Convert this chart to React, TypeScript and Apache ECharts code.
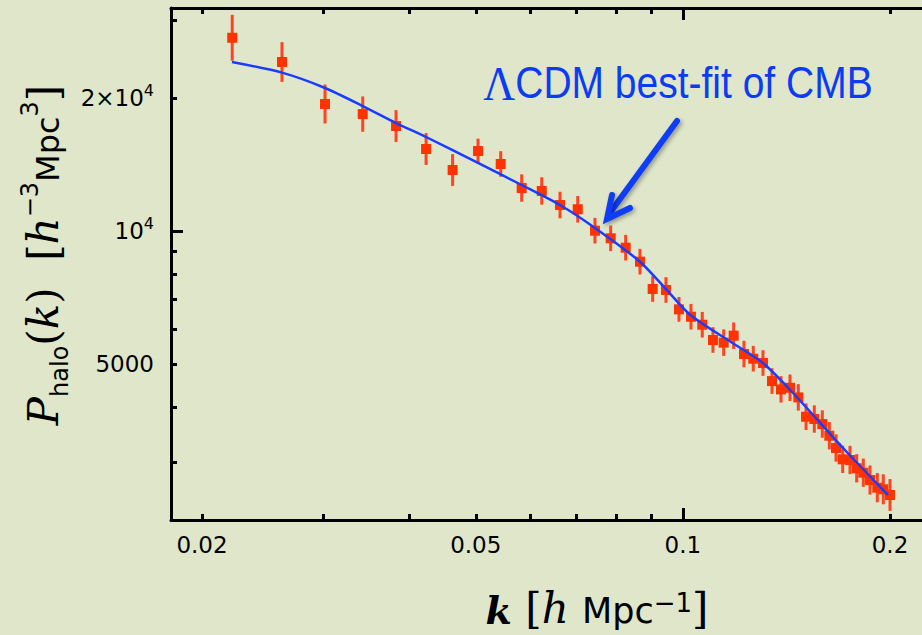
import React, { useEffect, useRef } from 'react';
import * as echarts from 'echarts';

// Measured halo power spectrum (k in h/Mpc, P in h^-3 Mpc^3)
const kData = [0.02213, 0.02614, 0.03019, 0.03425, 0.03829, 0.04234, 0.04627, 0.05038, 0.05435, 0.0583,
  0.06235, 0.06628, 0.07033, 0.07451, 0.07853, 0.08257, 0.08662, 0.09038, 0.09449, 0.09869,
  0.10274, 0.1067, 0.11059, 0.11462, 0.11852, 0.12268, 0.12656, 0.13074, 0.13474, 0.13887,
  0.14312, 0.14715, 0.151, 0.15525, 0.15946, 0.16324, 0.16694, 0.17072, 0.17494, 0.1789,
  0.1829, 0.18704, 0.19167, 0.19556, 0.2];
const pData = [27370, 24120, 19380, 18390, 17280, 15330, 13740, 15170, 14180, 12510,
  12320, 11450, 11200, 10016, 9627, 9168, 8523, 7392, 7354, 6650,
  6398, 6137, 5668, 5590, 5797, 5268, 5141, 5027, 4576, 4382,
  4419, 4203, 3800, 3755, 3658, 3442, 3229, 3044, 3033, 2905,
  2839, 2733, 2626, 2604, 2528];
// half length of error bars in log10 units
const errDex = [0.052, 0.045, 0.044, 0.040, 0.036, 0.036, 0.036, 0.028, 0.029, 0.031,
  0.031, 0.030, 0.030, 0.029, 0.029, 0.029, 0.029, 0.029, 0.029, 0.028,
  0.029, 0.029, 0.029, 0.030, 0.030, 0.030, 0.029, 0.029, 0.029, 0.030,
  0.030, 0.030, 0.030, 0.031, 0.031, 0.031, 0.031, 0.031, 0.032, 0.032,
  0.032, 0.033, 0.033, 0.034, 0.036];

// LCDM best-fit curve
const lineK = [0.02211, 0.02614, 0.03019, 0.03425, 0.03829, 0.04234, 0.05004, 0.0583, 0.06628, 0.07451,
  0.08662, 0.09449, 0.10274, 0.11852, 0.13074, 0.14456, 0.17089, 0.19866];
const lineP = [24120, 22820, 21070, 19180, 17550, 16320, 14330, 12710, 11450, 10160,
  8523, 7392, 6440, 5560, 5027, 4300, 3229, 2528];

const kRange = [0.01803, 0.2325];
const pRange = [2219, 31960];
const kTicks = [0.02, 0.03, 0.04, 0.05, 0.06, 0.07, 0.08, 0.09, 0.1, 0.2];
const kTickLabels = [0.02, 0.05, 0.1, 0.2];
const kDecadeTicks = [0.1];
const pTicks = [3000, 4000, 5000, 6000, 7000, 8000, 9000, 10000, 20000, 30000];
const pTickLabels = [5000, 10000, 20000];
const pDecadeTicks = [10000];

const lg = Math.log10;
const BLUE = '#0b3cf4';
const LINE_BLUE = '#1a3cff';
const RED = '#ff3300';

export default function App() {
  const ref = useRef<HTMLDivElement>(null);
  useEffect(() => {
    if (!ref.current) return;
    const chart = echarts.init(ref.current, null, { renderer: 'svg' });
    const xMin = lg(kRange[0]);
    const xMax = lg(kRange[1]);
    const yMin = lg(pRange[0]);
    const yMax = lg(pRange[1]);
    const axisLine = { show: true, onZero: false, lineStyle: { color: '#000', width: 3 } };
    const tickStyle = { color: '#000', width: 3 };
    const xBase = (grid: number, pos: string) => ({
      type: 'value', gridIndex: grid, position: pos, min: xMin, max: xMax,
      splitLine: { show: false },
    });
    const yBase = (grid: number, pos: string) => ({
      type: 'value', gridIndex: grid, position: pos, min: yMin, max: yMax,
      splitLine: { show: false },
    });
    const labelFont = { fontFamily: 'DejaVu Sans', fontSize: 23, color: '#000' };

    const yTitle = '{P|P}{sub|halo}{m|(}{k|k}{m|)}{g|  }{m|[}{h|h}{sup|−3}{s|Mpc}{sup|3}{m|]}';
    const xTitle = '{k|k}{g| }{m|[}{h|h}{g| }{s|Mpc}{sup|−1}{m|]}';
    const serif = { fontFamily: 'DejaVu Serif', fontSize: 42, fill: '#000' };

    const option: any = {
      animation: false,
      backgroundColor: '#dfe6ca',
      grid: [
        { left: 171, right: 5, top: 8, bottom: 115 },
        { left: 171, right: 5, top: 8, bottom: 115 },
      ],
      xAxis: [
        {
          ...xBase(0, 'bottom'),
          axisLine,
          axisTick: { show: true, inside: true, length: 6, lineStyle: tickStyle, customValues: kTicks.map(lg) },
          axisLabel: {
            ...labelFont, margin: 13, customValues: kTickLabels.map(lg),
            formatter: (v: number) => String(Math.round(Math.pow(10, v) * 100) / 100),
          },
        },
        {
          ...xBase(0, 'top'),
          axisLine,
          axisTick: { show: true, inside: true, length: 6, lineStyle: tickStyle, customValues: kTicks.map(lg) },
          axisLabel: { show: false },
        },
        {
          ...xBase(1, 'bottom'),
          axisLine: { show: false },
          axisTick: { show: true, inside: true, length: 12, lineStyle: tickStyle, customValues: kDecadeTicks.map(lg) },
          axisLabel: { show: false },
        },
        {
          ...xBase(1, 'top'),
          axisLine: { show: false },
          axisTick: { show: true, inside: true, length: 12, lineStyle: tickStyle, customValues: kDecadeTicks.map(lg) },
          axisLabel: { show: false },
        },
      ],
      yAxis: [
        {
          ...yBase(0, 'left'),
          axisLine,
          axisTick: { show: true, inside: true, length: 6, lineStyle: tickStyle, customValues: pTicks.map(lg) },
          axisLabel: {
            ...labelFont, margin: 17, customValues: pTickLabels.map(lg),
            formatter: (v: number) => {
              const p = Math.round(Math.pow(10, v));
              if (p === 10000) return '{b|10}{s|4}';
              if (p === 20000) return '{b|2×10}{s|4}';
              return '{b|' + p + '}';
            },
            rich: {
              b: { fontFamily: 'DejaVu Sans', fontSize: 23, color: '#000' },
              s: { fontFamily: 'DejaVu Sans', fontSize: 16, color: '#000', padding: [0, 0, 15, 0] },
            },
          },
        },
        {
          ...yBase(0, 'right'),
          axisLine,
          axisTick: { show: false },
          axisLabel: { show: false },
        },
        {
          ...yBase(1, 'left'),
          axisLine: { show: false },
          axisTick: { show: true, inside: true, length: 12, lineStyle: tickStyle, customValues: pDecadeTicks.map(lg) },
          axisLabel: { show: false },
        },
      ],
      series: [
        {
          type: 'custom',
          xAxisIndex: 0, yAxisIndex: 0,
          z: 2,
          data: kData.map((k, i) => [lg(k), lg(pData[i]), errDex[i]]),
          renderItem: (params: any, api: any) => {
            const x = api.value(0);
            const y = api.value(1);
            const e = api.value(2);
            const a = api.coord([x, y - e]);
            const b = api.coord([x, y + e]);
            return {
              type: 'line',
              shape: { x1: a[0], y1: a[1], x2: b[0], y2: b[1] },
              style: { stroke: '#ff4422', lineWidth: 3 },
            };
          },
        },
        {
          type: 'scatter',
          xAxisIndex: 0, yAxisIndex: 0,
          z: 3,
          symbol: 'rect',
          symbolSize: 10,
          itemStyle: { color: RED, opacity: 1 },
          data: kData.map((k, i) => [lg(k), lg(pData[i])]),
        },
        {
          type: 'line',
          xAxisIndex: 0, yAxisIndex: 0,
          z: 4,
          smooth: 0.25,
          showSymbol: false,
          symbol: 'none',
          lineStyle: { color: LINE_BLUE, width: 2.5 },
          data: lineK.map((k, i) => [lg(k), lg(lineP[i])]),
        },
      ],
      graphic: [
        {
          type: 'text', x: 43.5, y: 255, rotation: Math.PI / 2,
          style: {
            text: yTitle, align: 'center', verticalAlign: 'middle',
            rich: {
              P: { ...serif, fontStyle: 'italic' },
              k: { ...serif, fontStyle: 'italic' },
              h: { ...serif, fontStyle: 'italic' },
              m: { ...serif },
              g: { ...serif },
              sub: { fontFamily: 'DejaVu Sans', fontSize: 24, fill: '#000', padding: [32, 0, 0, 0] },
              s: { fontFamily: 'DejaVu Sans', fontSize: 32, fill: '#000', padding: [9, 0, 0, 0] },
              sup: { fontFamily: 'DejaVu Sans', fontSize: 24, fill: '#000', padding: [0, 0, 28, 0] },
            },
          },
        },
        {
          type: 'text', x: 597, y: 608.5,
          style: {
            text: xTitle, align: 'center', verticalAlign: 'middle',
            rich: {
              k: { ...serif, fontSize: 38, fontStyle: 'italic', fontWeight: 'bold', padding: [3, 0, 0, 0] },
              h: { ...serif, fontStyle: 'italic' },
              m: { ...serif },
              g: { ...serif },
              s: { fontFamily: 'DejaVu Sans', fontSize: 35, fill: '#000', padding: [5, 0, 0, 0] },
              sup: { fontFamily: 'DejaVu Sans', fontSize: 26, fill: '#000', padding: [0, 0, 12, 0] },
            },
          },
        },
        {
          type: 'text', x: 678, y: 83, scaleY: 1.12,
          style: {
            text: '{L|Λ}{t|CDM best-fit of CMB}', align: 'center', verticalAlign: 'middle',
            rich: {
              L: { fontFamily: 'Liberation Serif', fontSize: 44, fill: BLUE },
              t: { fontFamily: 'Liberation Sans', fontSize: 39, fill: BLUE },
            },
          },
        },
        {
          type: 'polyline',
          shape: { points: [[677, 121], [609, 214]] },
          style: {
            stroke: BLUE, lineWidth: 6, lineCap: 'round', fill: 'none',
            shadowBlur: 4, shadowColor: 'rgba(0,0,0,0.35)', shadowOffsetX: 2, shadowOffsetY: 2,
          },
        },
        {
          type: 'polyline',
          shape: { points: [[612, 195], [607, 219], [630, 208]] },
          style: {
            stroke: BLUE, lineWidth: 6, lineCap: 'round', lineJoin: 'miter', fill: 'none',
            shadowBlur: 4, shadowColor: 'rgba(0,0,0,0.35)', shadowOffsetX: 2, shadowOffsetY: 2,
          },
        },
      ],
    };
    chart.setOption(option);
    return () => chart.dispose();
  }, []);
  return (
    <div style={{ position: 'fixed', left: 0, top: 0, width: 922, height: 635, overflow: 'hidden', background: '#dfe6ca' }}>
      <div ref={ref} style={{ width: 940, height: 635 }} />
    </div>
  );
}
